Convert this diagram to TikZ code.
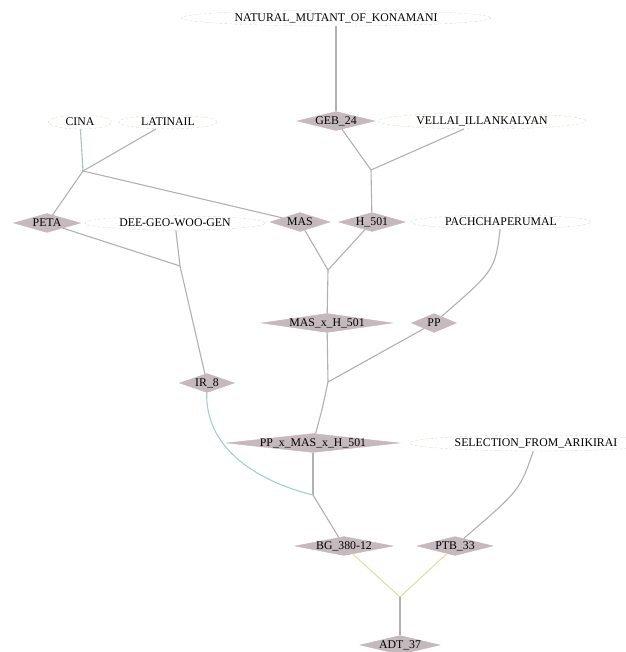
\documentclass[tikz,border=0pt]{standalone}
\usepackage{fontspec}
\setmainfont{Liberation Serif}
\usetikzlibrary{calc}
\usetikzlibrary{shapes.geometric,positioning}
\definecolor{crossfill}{RGB}{196,186,190}
\definecolor{crossline}{RGB}{214,176,184}
\definecolor{leafline}{RGB}{222,220,196}
\definecolor{edgegray}{RGB}{178,176,178}
\definecolor{edgecyan}{RGB}{160,210,205}
\definecolor{edgeyellow}{RGB}{226,224,158}

\begin{document}
\begin{tikzpicture}[x=1pt, y=-1pt,
        every node/.style={font=\fontsize{11.8}{13}\selectfont},
        cross/.style={diamond, aspect=20, draw=crossline, fill=crossfill, inner sep=0pt, minimum height=19pt, text height=0pt, text depth=0pt,
            execute at begin node={\lower3.9pt\hbox\bgroup}, execute at end node={\egroup}},
        parent/.style={ellipse, draw=leafline, dash pattern=on 3pt off 2pt, inner xsep=8pt, inner ysep=1pt},
        link/.style={draw=edgegray, line width=1.1pt}]
        \useasboundingbox (0,0) rectangle (625,652);
        \node [parent] (konamani) at (336,18) {NATURAL\_MUTANT\_OF\_KONAMANI};
        \node [cross, minimum width=78pt] (geb) at (336,121) {GEB\_24};
        \node [parent] (vellai) at (482,121) {VELLAI\_ILLANKALYAN};
        \node [parent] (cina) at (80,122) {CINA};
        \node [parent] (latinail) at (168,122) {LATINAIL};
        \node [cross, minimum width=67pt] (peta) at (47,223) {PETA};
        \node [parent] (dgwg) at (175,223) {DEE-GEO-WOO-GEN};
        \node [cross, minimum width=60pt] (mas) at (300,222) {MAS};
        \node [cross, minimum width=67pt] (h501) at (372,222) {H\_501};
        \node [parent] (pachcha) at (501,222) {PACHCHAPERUMAL};
        \node [cross, minimum width=131pt] (masxh) at (327,323) {MAS\_x\_H\_501};
        \node [cross, minimum width=45pt] (pp) at (434,323) {PP};
        \node [cross, minimum width=55pt] (ir8) at (207,383) {IR\_8};
        \node [cross, minimum width=173pt] (ppxmas) at (313,443) {PP\_x\_MAS\_x\_H\_501};
        \node [parent] (arikirai) at (536,443) {SELECTION\_FROM\_ARIKIRAI};
        \node [cross, minimum width=98pt] (bg) at (344,546) {BG\_380-12};
        \node [cross, minimum width=76pt] (ptb) at (455,546) {PTB\_33};
        \node [cross, minimum width=80pt] (adt) at (400,645) {ADT\_37};
        \coordinate (cl) at (83,171);
        \coordinate (gv) at (371,170);
        \coordinate (pd) at (180,266);
        \coordinate (mh) at (328,270);
        \coordinate (pm) at (328,382);
        \coordinate (pi) at (313,495);
        \coordinate (bp) at (400,597);
        \draw[link] (konamani) -- (geb);
        \draw[link, draw=edgecyan!60!edgegray] (cina) -- (cl);
        \draw[link] (latinail) -- (cl);
        \draw[link] (cl) -- (peta);
        \draw[link] (cl) -- (mas);
        \draw[link] (geb) -- (gv);
        \draw[link] (vellai) -- (gv);
        \draw[link] (gv) -- (h501);
        \draw[link] (peta) -- (pd);
        \draw[link] (dgwg) -- (pd);
        \draw[link] (pd) -- (ir8);
        \draw[link] (mas) -- (mh);
        \draw[link] (h501) -- (mh);
        \draw[link] (mh) -- (masxh);
        \draw[link] (pachcha) .. controls (495,270) .. (pp);
        \draw[link] (masxh) -- (pm);
        \draw[link] (pp) -- (pm);
        \draw[link] (pm) .. controls (322,410) .. (ppxmas);
        \draw[link] (ppxmas) -- (pi);
        \draw[link, draw=edgecyan] (ir8) .. controls (205,450) and (260,482) .. (pi);
        \draw[link] (pi) -- (bg);
        \draw[link] (arikirai) .. controls (520,490) .. (ptb);
        \draw[link, draw=edgeyellow] (bg) -- (bp);
        \draw[link, draw=edgeyellow] (ptb) -- (bp);
        \draw[link] (bp) -- (adt);
\end{tikzpicture}
\end{document}
